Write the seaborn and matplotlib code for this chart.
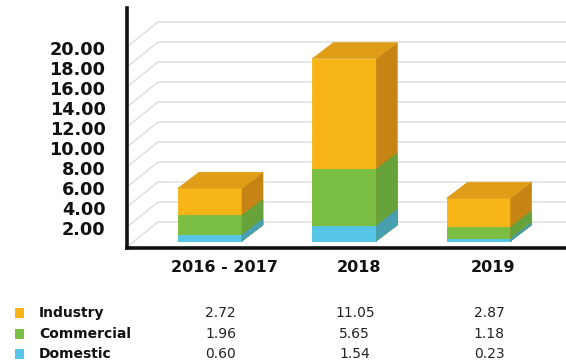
import matplotlib
matplotlib.use("Agg")
import matplotlib.pyplot as plt
import matplotlib.transforms as mtransforms
from matplotlib.patches import Polygon
import seaborn as sns
import pandas as pd

# ---- data -------------------------------------------------------------
categories = ["2016 - 2017", "2018", "2019"]
series_names = ["Industry", "Commercial", "Domestic"]
industry = [2.72, 11.05, 2.87]
commercial = [1.96, 5.65, 1.18]
domestic = [0.60, 1.54, 0.23]
tick_values = [2, 4, 6, 8, 10, 12, 14, 16, 18, 20]

# ---- styling ----------------------------------------------------------
front_colors = {"Industry": "#F7B517", "Commercial": "#7ABF44", "Domestic": "#56C6E8"}
side_colors = {"Industry": "#C58414", "Commercial": "#67A23A", "Domestic": "#479FB0"}
top_color = "#E09E18"
grid_color = "#E2E2E2"
ink = "#111111"

sns.set_theme(style="white")
plt.rcParams["font.family"] = ["DejaVu Sans"]

W, H = 566, 360
fig = plt.figure(figsize=(W / 100, H / 100), dpi=100)

# axes box in pixels (front plane of the floor)
ax_left, ax_right, ax_top, ax_bottom = 127, 566, 8, 248
ax = fig.add_axes([ax_left / W, 1 - ax_bottom / H,
                   (ax_right - ax_left) / W, (ax_bottom - ax_top) / H])

px_per_unit = 10.0          # vertical pixels per value unit
px_per_cat = 134.3          # horizontal pixels between categories
bar_zero_px = 241           # pixel row of value 0 on the bars' front plane
first_center_px = 210

x_lo = (ax_left - first_center_px) / px_per_cat
x_hi = (ax_right - first_center_px) / px_per_cat
y_lo = -(ax_bottom - bar_zero_px) / px_per_unit
y_hi = (bar_zero_px - ax_top) / px_per_unit

# oblique depth offsets (data units)
floor_front_dy = -(247 - bar_zero_px) / px_per_unit   # front edge of floor
wall_dy = (bar_zero_px - 222) / px_per_unit            # back wall
wall_x_px = 158
bar_dx = 21 / px_per_cat
bar_dy = 16 / px_per_unit
bar_width = 64 / px_per_cat

# ---- stacked bars (front faces) ---------------------------------------
cum_total = [a + b + c for a, b, c in zip(industry, commercial, domestic)]
cum_mid = [b + c for b, c in zip(commercial, domestic)]
layers = [("Industry", cum_total), ("Commercial", cum_mid), ("Domestic", domestic)]

for name, vals in layers:
    df = pd.DataFrame({"cat": categories, "val": vals})
    sns.barplot(data=df, x="cat", y="val", color=front_colors[name],
                saturation=1, width=bar_width, ax=ax, zorder=3,
                edgecolor=front_colors[name], linewidth=0.6)

# side and top faces derived from the drawn bar patches
bar_patches = list(ax.patches)
n = len(categories)
for li, (name, vals) in enumerate(layers):
    for ci in range(n):
        p = bar_patches[li * n + ci]
        x0, w, h = p.get_x(), p.get_width(), p.get_height()
        x1 = x0 + w
        side = [(x1, 0), (x1 + bar_dx, bar_dy), (x1 + bar_dx, h + bar_dy), (x1, h)]
        ax.add_patch(Polygon(side, closed=True, facecolor=side_colors[name],
                             edgecolor=side_colors[name], lw=0.4, zorder=3))
        if li == 0:
            top = [(x0, h), (x0 + bar_dx, h + bar_dy), (x1 + bar_dx, h + bar_dy), (x1, h)]
            ax.add_patch(Polygon(top, closed=True, facecolor=top_color,
                                 edgecolor=top_color, lw=0.4, zorder=3))

# ---- back wall grid and floor diagonals --------------------------------
wall_x = (wall_x_px - first_center_px) / px_per_cat
for v in [0] + tick_values:
    yb = v + wall_dy
    ax.plot([wall_x, x_hi], [yb, yb], color=grid_color, lw=1.2, zorder=1)
    ax.plot([x_lo, wall_x], [v + floor_front_dy, yb], color=grid_color, lw=1.2, zorder=1)

ax.set_xlim(x_lo, x_hi)
ax.set_ylim(y_lo, y_hi)

# axis frame: heavy left and bottom lines only
for s in ["top", "right"]:
    ax.spines[s].set_visible(False)
for s in ["left", "bottom"]:
    ax.spines[s].set_color(ink)
    ax.spines[s].set_linewidth(2.6)

ax.set_xticks([])
ax.set_xlabel("")
ax.set_ylabel("")
ax.set_yticks([v + floor_front_dy - 0.1 for v in tick_values])
ax.set_yticklabels([f"{v:.2f}" for v in tick_values],
                   fontsize=12.7, fontweight="bold", color=ink)
ax.tick_params(axis="y", length=0, pad=15.5)
ax.grid(False)

# ---- category headers and data table -----------------------------------
blend = mtransforms.blended_transform_factory(ax.transData, fig.transFigure)
col_x = [i + bar_dx / 2 for i in range(n)]
for cx, cat in zip(col_x, categories):
    ax.text(cx + 0.03, 1 - 268 / H, cat, transform=blend, ha="center", va="center",
            fontsize=11.5, fontweight="bold", color=ink, clip_on=False)

rows_y = [313, 334, 354]
table = [industry, commercial, domestic]
legend_colors = ["#FAB417", "#7BBF44", "#55C5E8"]
for ry, name, vals, lc in zip(rows_y, series_names, table, legend_colors):
    fig.patches.append(plt.Rectangle((14.5 / W, 1 - (ry + 4.5) / H), 9 / W, 9.5 / H,
                                     transform=fig.transFigure, facecolor=lc,
                                     edgecolor="none"))
    fig.text(39 / W, 1 - ry / H, name, ha="left", va="center",
             fontsize=10, fontweight="bold", color=ink)
    for cx, v in zip(col_x, vals):
        ax.text(cx, 1 - ry / H, f"{v:.2f}", transform=blend, ha="center",
                va="center", fontsize=10, color="#222222", clip_on=False)

fig.savefig("out.png", dpi=100)
